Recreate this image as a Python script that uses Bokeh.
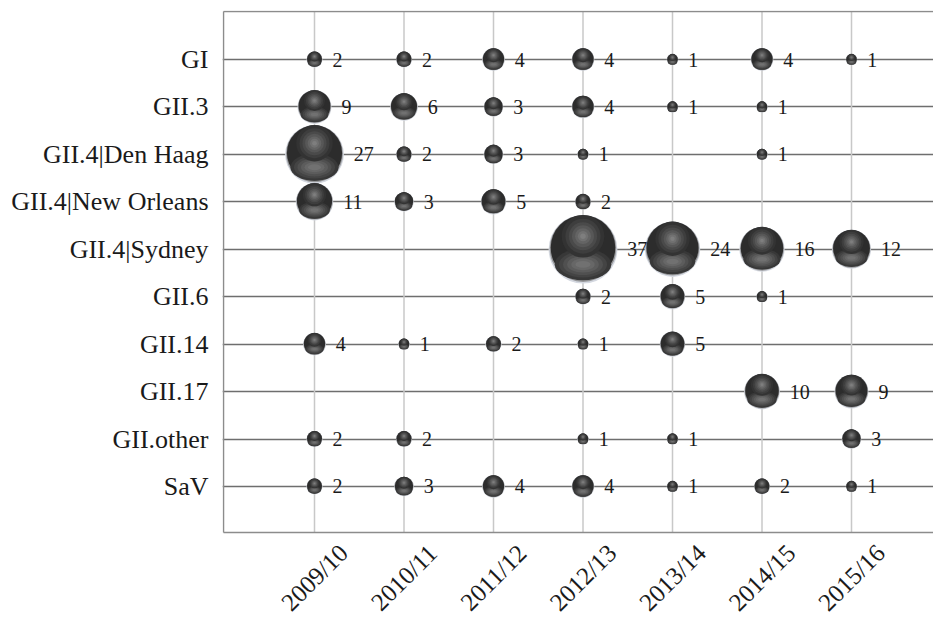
import math
from bokeh.plotting import figure
from bokeh.models import FixedTicker, ColumnDataSource, Range1d
from bokeh.core.properties import value
from bokeh.embed import file_html
from bokeh.resources import INLINE

seasons = ["2009/10", "2010/11", "2011/12", "2012/13", "2013/14", "2014/15", "2015/16"]
genotypes = ["GI", "GII.3", "GII.4|Den Haag", "GII.4|New Orleans", "GII.4|Sydney",
             "GII.6", "GII.14", "GII.17", "GII.other", "SaV"]
# counts per genotype across seasons (None = no detection)
gi = [2, 2, 4, 4, 1, 4, 1]
gii3 = [9, 6, 3, 4, 1, 1, None]
gii4_denhaag = [27, 2, 3, 1, None, 1, None]
gii4_neworleans = [11, 3, 5, 2, None, None, None]
gii4_sydney = [None, None, None, 37, 24, 16, 12]
gii6 = [None, None, None, 2, 5, 1, None]
gii14 = [4, 1, 2, 1, 5, None, None]
gii17 = [None, None, None, None, None, 10, 9]
gii_other = [2, 2, None, 1, 1, None, 3]
sav = [2, 3, 4, 4, 1, 2, 1]
rows = [gi, gii3, gii4_denhaag, gii4_neworleans, gii4_sydney, gii6, gii14, gii17, gii_other, sav]

# ---- layout (pixels) ----
W, H = 933, 619
BL, BT = 222, 10
ROW_PX, COL_PX = 47.44, 89.5
TOP_ROW_Y, FIRST_COL_X = 59, 314
n = len(genotypes)
m = len(seasons)


def ydata(c):
    return n - (c - TOP_ROW_Y) / ROW_PX


def xdata(c):
    return 1 + (c - FIRST_COL_X) / COL_PX


X0, X1 = xdata(BL), xdata(W)
Y1, Yb = ydata(BT), ydata(H)
B_LEFT, B_TOP, B_BOT = xdata(223), ydata(11), ydata(532)
LAB_Y = ydata(577)
SCALE = 11.3  # px diameter per sqrt(count)

xs, ys, vals, diam = [], [], [], []
for g_idx, row in enumerate(rows):
    for si, v in enumerate(row):
        if v is None:
            continue
        xs.append(si + 1)
        ys.append(n - g_idx)
        vals.append(v)
        diam.append(SCALE * math.sqrt(v))

p = figure(width=W, height=H, output_backend="svg", toolbar_location=None,
           x_range=Range1d(X0, X1), y_range=Range1d(Yb, Y1),
           min_border_left=BL, min_border_right=0, min_border_top=BT, min_border_bottom=0)
p.outline_line_color = None
p.background_fill_color = "white"
p.border_fill_color = "white"

p.xaxis.visible = False
p.xgrid.visible = False
p.yaxis.ticker = FixedTicker(ticks=list(range(1, n + 1)))
p.yaxis.major_label_overrides = {n - i: g for i, g in enumerate(genotypes)}
p.yaxis.major_label_text_font = "Liberation Serif"
p.yaxis.major_label_text_font_size = "26px"
p.yaxis.major_label_text_color = "#1a1a1a"
p.yaxis.major_label_standoff = 14
p.yaxis.major_tick_line_color = None
p.yaxis.major_tick_out = 0
p.yaxis.minor_tick_line_color = None
p.yaxis.axis_line_color = None

p.ygrid.grid_line_color = "#6e6e6e"
p.ygrid.grid_line_width = 1.5

# vertical grid lines, one per season, limited to the plot box
cols = list(range(1, m + 1))
p.segment(x0=cols, y0=[B_BOT] * m, x1=cols, y1=[B_TOP] * m,
          line_color="#c8c8c8", line_width=1.5)
# box border: top, bottom, left
p.segment(x0=[B_LEFT, B_LEFT, B_LEFT], y0=[B_TOP, B_BOT, B_BOT],
          x1=[X1, X1, B_LEFT], y1=[B_TOP, B_BOT, B_TOP],
          line_color="#8c8c8c", line_width=1.5)

# ---- shaded spheres ----
def circ(sf, uf, col):
    src = ColumnDataSource(dict(
        x=xs, y=[y + uf * d / ROW_PX for y, d in zip(ys, diam)],
        s=[sf * d for d in diam]))
    p.scatter("x", "y", size="s", source=src, fill_color=col, line_color=None)


def ell(wf, hf, uf, col):
    src = ColumnDataSource(dict(
        x=xs, y=[y + uf * d / ROW_PX for y, d in zip(ys, diam)],
        w=[wf * d for d in diam], h=[hf * d for d in diam]))
    p.ellipse("x", "y", width="w", height="h", width_units="screen",
              height_units="screen", source=src, fill_color=col, line_color=None)


circ(1.00, 0.000, "#d4d8e0")
circ(0.97, 0.010, "#969799")
circ(0.94, 0.025, "#2c2c2c")
ell(0.82, 0.46, -0.22, "#383838")
ell(0.70, 0.38, -0.22, "#444444")
ell(0.58, 0.31, -0.22, "#505050")
ell(0.46, 0.24, -0.22, "#5c5c5c")
ell(0.34, 0.17, -0.22, "#676767")
ell(0.22, 0.10, -0.22, "#717171")
circ(0.62, 0.19, "#333333")
circ(0.51, 0.19, "#3e3e3e")
circ(0.41, 0.19, "#4a4a4a")
circ(0.32, 0.19, "#575757")
circ(0.23, 0.19, "#646464")
circ(0.15, 0.19, "#717171")
circ(0.08, 0.19, "#7e7e7e")

# ---- value labels ----
lab = ColumnDataSource(dict(x=xs, y=ys, t=[str(v) for v in vals],
                            off=[d / 2 + 10 for d in diam]))
p.text("x", "y", text="t", source=lab, x_offset="off",
       text_font=value("Liberation Serif"), text_font_size="20px",
       text_color="#1a1a1a", text_baseline="middle", text_align="left")

# ---- season labels, rotated and centred under each column ----
sl = ColumnDataSource(dict(x=cols, y=[LAB_Y] * m, t=seasons))
p.text("x", "y", text="t", source=sl, angle=math.pi / 4,
       text_font=value("Liberation Serif"), text_font_size="25px",
       text_color="#1a1a1a", text_baseline="middle", text_align="center")

open("out.html", "w").write(file_html(p, INLINE))
